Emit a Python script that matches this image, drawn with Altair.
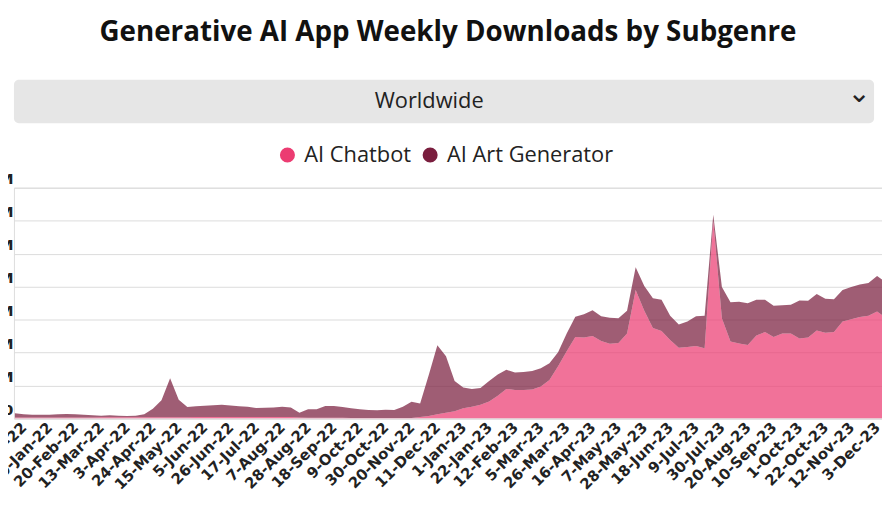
import altair as alt
import pandas as pd

# ---------------- data ----------------
weeks = pd.date_range("2022-01-02", periods=102, freq="7D").strftime("%Y-%m-%d").tolist()

# weekly downloads, millions
chatbot = [
    0.07, 0.07, 0.07, 0.07, 0.07, 0.07, 0.07, 0.07, 0.07, 0.07,
    0.08, 0.08, 0.08, 0.08, 0.08, 0.08, 0.08, 0.08, 0.08, 0.08,
    0.08, 0.10, 0.10, 0.10, 0.10, 0.10, 0.10, 0.10, 0.10, 0.10,
    0.10, 0.10, 0.10, 0.07, 0.05, 0.05, 0.05, 0.05, 0.05, 0.03,
    0.03, 0.03, 0.03, 0.03, 0.03, 0.03, 0.03, 0.09, 0.16, 0.27,
    0.36, 0.45, 0.63, 0.72, 0.84, 1.04, 1.38, 1.80, 1.74, 1.74,
    1.77, 1.95, 2.34, 3.18, 4.08, 4.95, 4.92, 5.01, 4.71, 4.54,
    4.59, 5.16, 7.80, 6.54, 5.49, 5.31, 4.77, 4.30, 4.34, 4.40,
    4.26, 12.00, 6.09, 4.68, 4.56, 4.46, 5.04, 5.25, 4.94, 5.16,
    5.16, 4.86, 4.92, 5.34, 5.20, 5.25, 5.88, 6.03, 6.16, 6.24,
    6.50, 6.12,
]
art_generator = [
    0.26, 0.20, 0.17, 0.17, 0.17, 0.20, 0.21, 0.20, 0.17, 0.14,
    0.10, 0.12, 0.10, 0.08, 0.09, 0.19, 0.52, 1.03, 2.36, 1.06,
    0.62, 0.65, 0.68, 0.71, 0.74, 0.69, 0.65, 0.62, 0.54, 0.55,
    0.57, 0.62, 0.57, 0.29, 0.51, 0.52, 0.71, 0.71, 0.65, 0.60,
    0.53, 0.49, 0.47, 0.51, 0.49, 0.69, 0.99, 0.83, 2.48, 4.17,
    3.42, 1.83, 1.26, 1.08, 1.02, 1.24, 1.29, 1.16, 1.06, 1.08,
    1.11, 1.11, 1.02, 0.84, 1.08, 1.23, 1.41, 1.56, 1.50, 1.58,
    1.50, 1.38, 1.38, 1.50, 1.81, 1.89, 1.47, 1.40, 1.54, 1.81,
    1.98, 0.36, 1.89, 2.38, 2.52, 2.54, 2.16, 1.95, 1.90, 1.72,
    1.74, 2.30, 2.22, 2.22, 2.06, 1.98, 1.92, 1.95, 1.97, 1.98,
    2.14, 2.16,
]
series_names = ["AI Chatbot", "AI Art Generator"]
series_colors = ["#EC3C72", "#7A1E3E"]
y_ticks = [0, 2, 4, 6, 8, 10, 12, 14]
tick_dates = pd.date_range("2022-01-09", "2023-12-24", freq="21D")

rows = []
for w, c, a in zip(weeks, chatbot, art_generator):
    rows.append({"week": w, "series": series_names[0], "value": c, "ord": 0})
    rows.append({"week": w, "series": series_names[1], "value": a, "ord": 1})
df = pd.DataFrame(rows)

FONT = "Open Sans"
TICK_FONT = "DejaVu Sans"

x_values = [alt.DateTime(year=d.year, month=d.month, date=d.day, utc=True) for d in tick_dates]

area = alt.Chart(df).mark_area(opacity=0.72, clip=True, interpolate="linear").encode(
    x=alt.X(
        "week:T",
        title=None,
        scale=alt.Scale(
            type="utc",
            domain=[
                alt.DateTime(year=2022, month=1, date=1, hours=5, utc=True),
                alt.DateTime(year=2023, month=12, date=7, utc=True),
            ],
        ),
        axis=alt.Axis(
            values=x_values,
            labelExpr="utcFormat(datum.value, '%-d-%b-%y')",
            labelAngle=-45,
            labelAlign="right",
            labelBaseline="middle",
            labelPadding=6,
            labelFontSize=15,
            labelFontWeight="bold",
            labelFont=TICK_FONT,
            labelColor="#222222",
            labelOverlap=False,
            domain=False,
            ticks=False,
            grid=False,
        ),
    ),
    y=alt.Y(
        "value:Q",
        stack="zero",
        title=None,
        scale=alt.Scale(domain=[0, 14], nice=False),
        axis=alt.Axis(
            values=y_ticks,
            labelExpr="datum.value == 0 ? '0' : datum.value + 'M'",
            labelAlign="right",
            labelBaseline="middle",
            labelOffset=-9,
            labelPadding=1,
            labelFontSize=15,
            labelFontWeight="bold",
            labelFont=TICK_FONT,
            labelColor="#222222",
            domain=False,
            ticks=False,
            grid=True,
            gridColor="#dcdcdc",
            gridWidth=1,
        ),
    ),
    color=alt.Color(
        "series:N",
        scale=alt.Scale(domain=series_names, range=series_colors),
        legend=alt.Legend(
            title=None,
            orient="none",
            legendX=265,
            legendY=-44,
            direction="horizontal",
            symbolType="circle",
            symbolSize=230,
            symbolOpacity=1,
            symbolStrokeWidth=0,
            labelFontSize=22,
            labelFont=FONT,
            labelFontWeight=500,
            labelColor="#222222",
            labelOffset=6,
            labelLimit=400,
            columnPadding=8,
        ),
    ),
    order=alt.Order("ord:Q", sort="ascending"),
)

box = alt.Chart(pd.DataFrame({"k": [0]})).mark_rect(
    color="#e6e6e6", cornerRadius=5, clip=False
).encode(
    x=alt.value(0), x2=alt.value(868), y=alt.value(-109), y2=alt.value(-65)
)

region = alt.Chart(pd.DataFrame({"t": ["Worldwide"]})).mark_text(
    fontSize=22, font=FONT, fontWeight=500, color="#222222", clip=False
).encode(x=alt.value(419), y=alt.value(-87), text="t:N")

chevron = alt.Chart(pd.DataFrame({"t": ["⌄"]})).mark_text(
    fontSize=28, font="DejaVu Sans", color="#222222", clip=False
).encode(x=alt.value(853), y=alt.value(-94), text="t:N")

chart = alt.layer(box, region, chevron, area).properties(
    width=876,
    height=233,
    autosize=alt.AutoSizeParams(type="none"),
    padding={"left": 6, "top": 179, "right": 0, "bottom": 102},
    title=alt.TitleParams(
        "Generative AI App Weekly Downloads by Subgenre",
        fontSize=28,
        font=FONT,
        fontWeight="bold",
        color="#111111",
        anchor="middle",
        offset=33,
    ),
).configure_view(stroke=None).configure(background="white")

chart.save("out.html", embed_options={"renderer": "svg", "actions": False})
